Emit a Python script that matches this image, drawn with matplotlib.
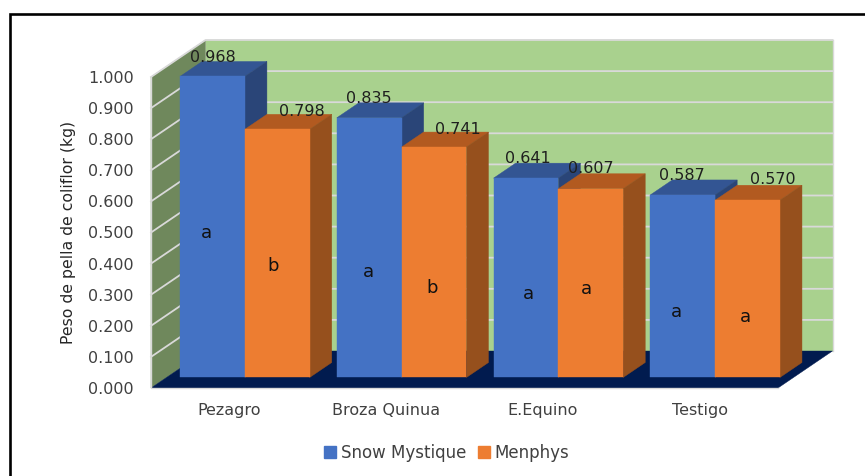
import matplotlib
matplotlib.use('Agg')
import matplotlib.pyplot as plt
from matplotlib.lines import Line2D
from matplotlib.patches import Patch

categories = ['Pezagro', 'Broza Quinua', 'E.Equino', 'Testigo']
snow_mystique = [0.968, 0.835, 0.641, 0.587]
menphys = [0.798, 0.741, 0.607, 0.570]
snow_letters = ['a', 'a', 'a', 'a']
menphys_letters = ['b', 'b', 'a', 'a']
snow_letter_heights = [0.466, 0.338, 0.270, 0.209]
menphys_letter_heights = [0.357, 0.289, 0.283, 0.196]
y_ticks = [0.0, 0.1, 0.2, 0.3, 0.4, 0.5, 0.6, 0.7, 0.8, 0.9, 1.0]

# label nudges in pixels from the middle of each bar's front top edge
snow_label_offsets = [(0, 19), (0, 19), (2, 19.5), (-1, 19)]
menphys_label_offsets = [(25, 18), (24, 17.5), (0, 20), (25, 21)]
snow_letter_dx = [-6, -1, 2, -6]
menphys_letter_dx = [-4.5, -1.5, -4, -2]

WALL_BACK = '#a9d18e'
WALL_SIDE = '#6f885c'
FLOOR = '#011b4f'
GRID = '#d9d9d9'
BLUE = ('#4472c4', '#335593', '#2a4578')
ORANGE = ('#ed7d31', '#b25a20', '#96501d')
TEXT = '#404040'
FONT = 'DejaVu Sans'

# oblique projection: a full unit of depth moves this far along x and y
DEPTH_X = 54.5 / 156.75
DEPTH_Y = 37 / 311
BAR_W = 0.4134
BAR_Z0, BAR_Z1 = 0.284, 0.689


def proj(x, v, z=0.0):
    return x + z * DEPTH_X, v + z * DEPTH_Y


def face(ax, corners, color, zorder):
    pts = [proj(*c) for c in corners]
    ax.fill([p[0] for p in pts], [p[1] for p in pts], color=color, lw=0.3, clip_on=False, zorder=zorder)


def draw_bar(ax, x, v, colors, zorder):
    x1 = x + BAR_W
    z0, z1 = BAR_Z0, BAR_Z1
    face(ax, [(x, v, z0), (x1, v, z0), (x1, v, z1), (x, v, z1)], colors[1], zorder)
    face(ax, [(x1, 0, z0), (x1, v, z0), (x1, v, z1), (x1, 0, z1)], colors[2], zorder)
    face(ax, [(x, 0, z0), (x1, 0, z0), (x1, v, z0), (x, v, z0)], colors[0], zorder + 0.1)


fig = plt.figure(figsize=(8.65, 4.76), dpi=100)
ax = fig.add_axes([151 / 865, 88 / 476, 627 / 865, 311 / 476])
ax.set_xlim(0, len(categories))
ax.set_ylim(0, 1)

# walls and floor
n = len(categories)
face(ax, [(0, 0, 1), (n, 0, 1), (n, 1, 1), (0, 1, 1)], WALL_BACK, 1)
face(ax, [(0, 0, 0), (0, 0, 1), (0, 1, 1), (0, 1, 0)], WALL_SIDE, 1)
face(ax, [(0, 0, 0), (n, 0, 0), (n, 0, 1), (0, 0, 1)], FLOOR, 2)

for tick in y_ticks:
    if tick == 0:
        continue
    xs, ys = zip(proj(0, tick, 0), proj(0, tick, 1), proj(n, tick, 1))
    ax.plot(xs, ys, color=GRID, lw=1.3, clip_on=False, zorder=1.5)
xs, ys = zip(proj(0, 1, 0), proj(0, 0, 0), proj(n, 0, 0))
ax.plot(xs, ys, color=GRID, lw=1.0, clip_on=False, zorder=3)
xs, ys = zip(proj(n, 0, 1), proj(n, 1, 1))
ax.plot(xs, ys, color=GRID, lw=1.0, clip_on=False, zorder=1.5)

# bars, left to right so each one overlaps the side of the previous one
gap = (1 - 2 * BAR_W) / 2
for i in range(n):
    left = i + gap
    draw_bar(ax, left, snow_mystique[i], BLUE, 4 + i)
    draw_bar(ax, left + BAR_W, menphys[i], ORANGE, 4.5 + i)

    for start, vals, offs, letters, heights, ldx in (
        (left, snow_mystique, snow_label_offsets, snow_letters, snow_letter_heights, snow_letter_dx),
        (left + BAR_W, menphys, menphys_label_offsets, menphys_letters, menphys_letter_heights, menphys_letter_dx),
    ):
        mid = start + BAR_W / 2
        ax.annotate(f'{vals[i]:.3f}', proj(mid, vals[i], BAR_Z0), xytext=offs[i], textcoords='offset pixels',
                    ha='center', va='center', fontsize=11.5, color='#1f1f1f', family=FONT, zorder=20,
                    annotation_clip=False)
        ax.annotate(letters[i], proj(mid, heights[i], BAR_Z0), xytext=(ldx[i], 0), textcoords='offset pixels',
                    ha='center', va='center', fontsize=13, color='#111111', family=FONT, zorder=20,
                    annotation_clip=False)

ax.set_xticks([i + 0.5 for i in range(n)], categories)
ax.set_yticks(y_ticks, [f'{t:.3f}' for t in y_ticks])
ax.tick_params(axis='both', length=0, labelcolor=TEXT)
ax.tick_params(axis='y', pad=12.5, labelsize=11.5)
ax.tick_params(axis='x', pad=11, labelsize=11.5)
for lab in ax.get_xticklabels() + ax.get_yticklabels():
    lab.set_family(FONT)
for spine in ax.spines.values():
    spine.set_visible(False)
ax.patch.set_visible(False)

fig.text(68 / 865, 1 - 232 / 476, 'Peso de pella de coliflor (kg)', rotation=90, ha='center', va='center',
         fontsize=11.3, color='#262626', family=FONT)

handles = [Patch(color=BLUE[0], label='Snow Mystique'), Patch(color=ORANGE[0], label='Menphys')]
fig.legend(handles=handles, loc='center', bbox_to_anchor=(446.5 / 865, 1 - 453 / 476), ncol=2, frameon=False,
           prop={'family': FONT, 'size': 12}, labelcolor=TEXT, handlelength=0.72, handleheight=0.72,
           handletextpad=0.3, columnspacing=0.7)

# outer frame: only the left and top edges are inside the canvas
fig.add_artist(Line2D([9.5 / 865, 9.5 / 865, 1], [0, 1 - 13.5 / 476, 1 - 13.5 / 476], color='black', lw=1.9,
                      solid_joinstyle='miter'))

fig.savefig('out.png', dpi=100)
